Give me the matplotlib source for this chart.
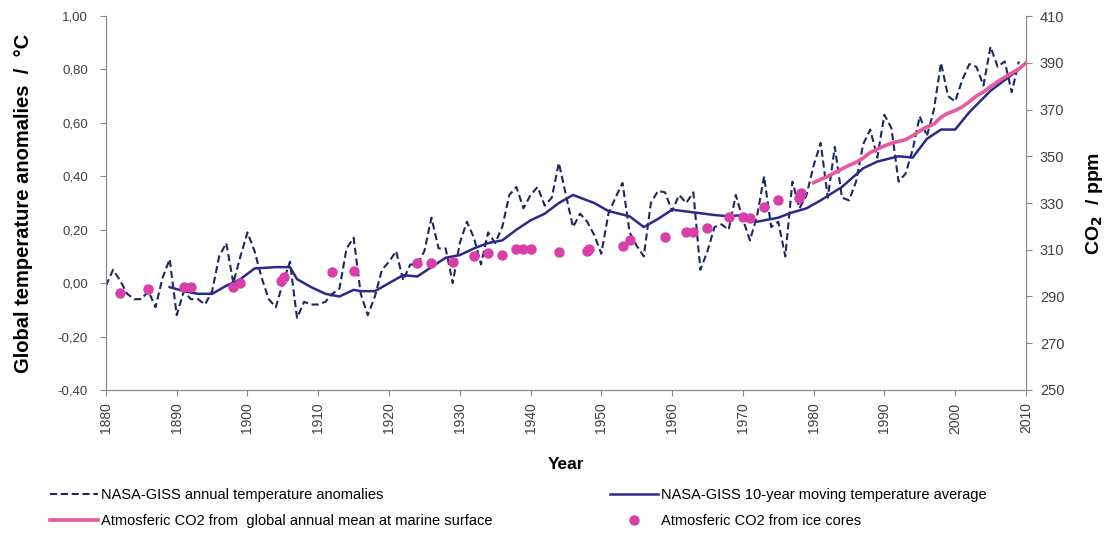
import matplotlib
matplotlib.use('Agg')
import matplotlib.pyplot as plt
from matplotlib.ticker import FuncFormatter, MultipleLocator, FixedLocator

plt.rcParams['font.family'] = ['Liberation Sans', 'DejaVu Sans']

# ============ Data ============
# NASA-GISS annual temperature anomalies (degC), 1880-2009
years = list(range(1880, 2010))
temp_annual = [
    -0.01, 0.05, 0.01, -0.04, -0.06, -0.06, -0.03, -0.09, 0.02, 0.09,
    -0.12, -0.03, -0.06, -0.06, -0.08, -0.03, 0.10, 0.15, 0.00, 0.10,
    0.19, 0.12, 0.02, -0.06, -0.09, 0.00, 0.08, -0.13, -0.07, -0.08,
    -0.08, -0.07, -0.04, -0.02, 0.13, 0.17, -0.04, -0.12, -0.05, 0.05,
    0.08, 0.12, 0.01, 0.07, 0.07, 0.12, 0.245, 0.13, 0.13, 0.00,
    0.15, 0.23, 0.17, 0.07, 0.19, 0.15, 0.21, 0.33, 0.36, 0.28,
    0.33, 0.36, 0.29, 0.32, 0.45, 0.33, 0.21, 0.26, 0.23, 0.18,
    0.11, 0.26, 0.32, 0.375, 0.19, 0.14, 0.10, 0.30, 0.345, 0.34,
    0.27, 0.33, 0.30, 0.34, 0.05, 0.12, 0.21, 0.22, 0.20, 0.33,
    0.24, 0.16, 0.25, 0.40, 0.21, 0.23, 0.10, 0.38, 0.28, 0.33,
    0.44, 0.525, 0.32, 0.51, 0.32, 0.31, 0.38, 0.52, 0.575, 0.47,
    0.63, 0.58, 0.38, 0.41, 0.50, 0.625, 0.55, 0.65, 0.825, 0.70,
    0.68, 0.76, 0.82, 0.81, 0.74, 0.885, 0.81, 0.83, 0.715, 0.83,
]

# NASA-GISS 10-year moving average (degC)
ma_years = [1889, 1891, 1893, 1895, 1897, 1899, 1901, 1904, 1906, 1907, 1909,
            1911, 1913, 1915, 1916, 1918, 1920, 1922, 1924, 1926, 1928, 1930,
            1932, 1934, 1936, 1938, 1940, 1942, 1944, 1946, 1949, 1951, 1954,
            1956, 1958, 1960, 1963, 1966, 1968, 1970, 1972, 1975, 1977, 1979,
            1981, 1984, 1987, 1989, 1992, 1994, 1996, 1998, 2000, 2002, 2005,
            2007, 2009]
ma_temp = [-0.015, -0.03, -0.04, -0.04, -0.01, 0.015, 0.055, 0.06, 0.06, 0.015, -0.015,
           -0.04, -0.05, -0.025, -0.03, -0.03, 0.0, 0.03, 0.025, 0.06, 0.095, 0.105,
           0.13, 0.15, 0.16, 0.20, 0.235, 0.26, 0.30, 0.33, 0.30, 0.27, 0.25,
           0.21, 0.24, 0.275, 0.265, 0.255, 0.25, 0.255, 0.23, 0.245, 0.265, 0.28,
           0.31, 0.36, 0.43, 0.455, 0.475, 0.47, 0.54, 0.575, 0.575, 0.64, 0.72,
           0.76, 0.80]

# Atmospheric CO2, global annual mean at marine surface (ppm)
co2_years = list(range(1980, 2011))
co2_marine = [338.7, 340.1, 341.4, 343.0, 344.6, 346.1, 347.4, 349.2, 351.6, 353.1,
              354.4, 355.6, 356.4, 357.1, 358.8, 360.8, 362.6, 363.7, 366.7, 368.4,
              369.6, 371.1, 373.3, 375.8, 377.5, 379.8, 381.9, 383.8, 385.6, 387.4,
              389.9]

# Atmospheric CO2 from ice cores (ppm)
ice_years = [1882, 1886, 1891, 1892, 1898, 1899, 1904.8, 1905.1, 1912, 1915,
             1924, 1926, 1929, 1932, 1934, 1936, 1938, 1939, 1940, 1944,
             1948, 1948.2, 1953, 1954, 1959, 1962, 1963, 1965, 1968, 1970,
             1971, 1973, 1975, 1978, 1978.2]
ice_co2 = [291.5, 293.2, 294.0, 294.2, 294.0, 295.8, 296.5, 298.5, 300.5, 301.0,
           304.3, 304.3, 304.8, 307.3, 308.6, 307.7, 310.2, 310.3, 310.3, 309.0,
           309.5, 310.5, 311.5, 314.0, 315.5, 317.5, 317.6, 319.3, 324.0, 324.0,
           323.6, 328.3, 331.3, 332.0, 334.3]

co2_ticks = list(range(250, 411, 20))

# ============ Plot ============
fig = plt.figure(figsize=(11.2, 5.43), dpi=100)
ax = fig.add_axes([0.0946, 0.2818, 0.8214, 0.6887])
ax2 = ax.twinx()

l1, = ax.plot(years, temp_annual, color='#1f2660', lw=1.5, ls=(0, (3.4, 1.8)),
              label='NASA-GISS annual temperature anomalies')
l2, = ax.plot(ma_years, ma_temp, color='#2a2a8a', lw=1.8,
              label='NASA-GISS 10-year moving temperature average')
l3, = ax2.plot(co2_years, co2_marine, color='#e8589e', lw=2.6,
               label='Atmosferic CO2 from  global annual mean at marine surface')
l4, = ax2.plot(ice_years, ice_co2, ls='none', marker='o', ms=6.5, color='#d83fa9',
               label='Atmosferic CO2 from ice cores')

ax.set_xlim(1880, 2010)
ax.set_ylim(-0.4, 1.0)
ax2.set_ylim(250, 410)
ax.xaxis.set_major_locator(MultipleLocator(10))
ax.yaxis.set_major_locator(MultipleLocator(0.2))
ax2.yaxis.set_major_locator(FixedLocator(co2_ticks))
ax.yaxis.set_major_formatter(FuncFormatter(lambda v, p: f'{v:.2f}'.replace('.', ',').replace('-0,00', '0,00')))

for a in (ax, ax2):
    for s in a.spines.values():
        s.set_color('#8a8a8a')
    a.spines['top'].set_visible(False)
    a.tick_params(colors='#8a8a8a', labelcolor='#404040', length=4)
ax.tick_params(axis='y', labelsize=9.5, pad=9)
ax.tick_params(axis='x', labelsize=10, pad=5)
ax2.tick_params(axis='y', labelsize=10.5, pad=6)
for lbl in ax.get_xticklabels():
    lbl.set_rotation(90)

ax.set_ylabel('Global temperature anomalies  /  °C', fontsize=14.5, fontweight='bold', labelpad=18)
ax2.set_ylabel(r'CO$_\mathbf{2}$  / ppm', fontsize=14, fontweight='bold', labelpad=14)
ax.set_xlabel('Year', fontsize=12.5, fontweight='bold', labelpad=17)

lg = dict(loc='upper left', frameon=False, handlelength=3.3, handletextpad=0.2,
          labelspacing=0.8, prop={'size': 10.5})
fig.legend(handles=[l1, l3], bbox_to_anchor=(0.033, 0.125), **lg)
fig.legend(handles=[l2, l4], bbox_to_anchor=(0.533, 0.125), **lg)

plt.savefig('out.png', dpi=100)
